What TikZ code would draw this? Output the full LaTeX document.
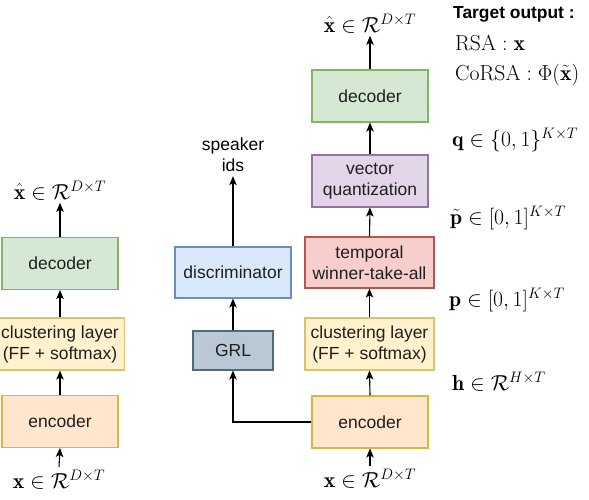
\RequirePackage{fix-cm}
\documentclass[tikz,border=0pt]{standalone}
\usepackage{fontspec}
\setsansfont{Liberation Sans}
\usetikzlibrary{arrows.meta}

\definecolor{grnF}{HTML}{D5E8D4}\definecolor{grnD}{HTML}{82B366}
\definecolor{ylwF}{HTML}{FFF2CC}\definecolor{ylwD}{HTML}{D6B656}
\definecolor{orgF}{HTML}{FFE6CC}\definecolor{orgD}{HTML}{D79B00}
\definecolor{bluF}{HTML}{DAE8FC}\definecolor{bluD}{HTML}{6C8EBF}
\definecolor{prpF}{HTML}{E1D5E7}\definecolor{prpD}{HTML}{9673A6}
\definecolor{redF}{HTML}{F8CECC}\definecolor{redD}{HTML}{B85450}
\definecolor{gryF}{HTML}{BAC8D3}\definecolor{gryD}{HTML}{23445D}

\newcommand\boxfnt{\sffamily\fontsize{17.5}{21}\selectfont}
\newcommand\mathfnt{\fontsize{21.7}{26}\selectfont}

\begin{document}
\begin{tikzpicture}[x=1pt,y=-1pt,
  blk/.style={draw, line width=1.1pt, rectangle, align=center, font=\boxfnt,
              inner sep=0pt, minimum width=116pt, minimum height=52pt, text=black!88},
  wide/.style={minimum width=129pt},
  enc/.style={blk, fill=orgF, draw=orgD!75},
  clu/.style={blk, wide, fill=ylwF, draw=ylwD!85},
  dec/.style={blk, fill=grnF, draw=grnD},
  mlab/.style={font=\mathfnt, inner sep=0pt, outer sep=3pt},
  arr/.style={line width=1.1pt, -{Stealth[length=9pt,width=7.5pt,inset=2.2pt]}},
]
\useasboundingbox (0,0) rectangle (589,499);

% ---- plain clustering autoencoder (left) ----
\node[enc] (enc1) at (60,421.5) {encoder};
\node[clu] (clu1) at (60,344) {clustering layer\\(FF + softmax)};
\node[dec] (dec1) at (60,263.5) {decoder};
\node[mlab, anchor=base] (xh1) at (60,199) {$\hat{\mathbf{x}}\in\mathcal{R}^{D\times T}$};
\node[mlab, anchor=base] (xi1) at (59,488) {$\mathbf{x}\in\mathcal{R}^{D\times T}$};

\draw[arr] (xi1.north) -- (enc1.south);
\draw[arr] (enc1.north) -- (clu1.south);
\draw[arr] (clu1.north) -- (dec1.south);
\draw[arr] (dec1.north) -- (xh1.south);

% ---- adversarial speaker branch (middle) ----
\node[blk, fill=gryF, draw=gryD!80, minimum width=80pt, minimum height=39pt] (grl) at (233,350.5) {GRL};
\node[blk, fill=bluF, draw=bluD, minimum height=51pt] (disc) at (233,272.5) {discriminator};
\node[font=\boxfnt, align=center, inner sep=0pt, outer sep=5pt, anchor=base] (spk) at (233,171) {speaker\\ids};

% ---- RSA / CoRSA model (right) ----
\node[enc] (enc2) at (370,422) {encoder};
\node[clu] (clu2) at (369.5,344) {clustering layer\\(FF + softmax)};
\node[blk, wide, fill=redF, draw=redD, minimum height=51pt] (twta) at (369.5,262.5) {temporal\\winner-take-all};
\node[blk, fill=prpF, draw=prpD] (vq) at (370,181) {vector\\quantization};
\node[dec] (dec2) at (370,96) {decoder};
\node[mlab, anchor=base] (xh2) at (370,32) {$\hat{\mathbf{x}}\in\mathcal{R}^{D\times T}$};
\node[mlab, anchor=base] (xi2) at (370,487) {$\mathbf{x}\in\mathcal{R}^{D\times T}$};

\draw[arr] (xi2.north) -- (enc2.south);
\draw[arr] (enc2.north) -- (clu2.south);
\draw[arr] (clu2.north) -- (twta.south);
\draw[arr] (twta.north) -- (vq.south);
\draw[arr] (vq.north) -- (dec2.south);
\draw[arr] (dec2.north) -- (xh2.south);

\draw[arr] (enc2.west) -| (grl.south);
\draw[arr] (grl.north) -- (disc.south);
\draw[arr] (disc.north) -- (spk.south);

% ---- annotations ----
\node[anchor=base west, inner sep=0pt, font=\sffamily\bfseries\fontsize{17.4}{21}\selectfont] (tgt) at (453,18) {Target output :};
\node[anchor=base west, inner sep=0pt, font=\mathfnt] (rsa) at (455,50) {$\mathrm{RSA}:\mathbf{x}$};
\node[anchor=base west, inner sep=0pt, font=\mathfnt] (corsa) at (455,80) {$\mathrm{CoRSA}:\Phi(\tilde{\mathbf{x}})$};
\node[anchor=base west, inner sep=0pt, font=\mathfnt] (lq) at (452,146) {$\mathbf{q}\in\{0,1\}^{K\times T}$};
\node[anchor=base west, inner sep=0pt, font=\mathfnt] (lpt) at (450,224) {$\tilde{\mathbf{p}}\in[0,1]^{K\times T}$};
\node[anchor=base west, inner sep=0pt, font=\mathfnt] (lp) at (449,306) {$\mathbf{p}\in[0,1]^{K\times T}$};
\node[anchor=base west, inner sep=0pt, font=\mathfnt] (lh) at (452,390) {$\mathbf{h}\in\mathcal{R}^{H\times T}$};
\end{tikzpicture}
\end{document}
